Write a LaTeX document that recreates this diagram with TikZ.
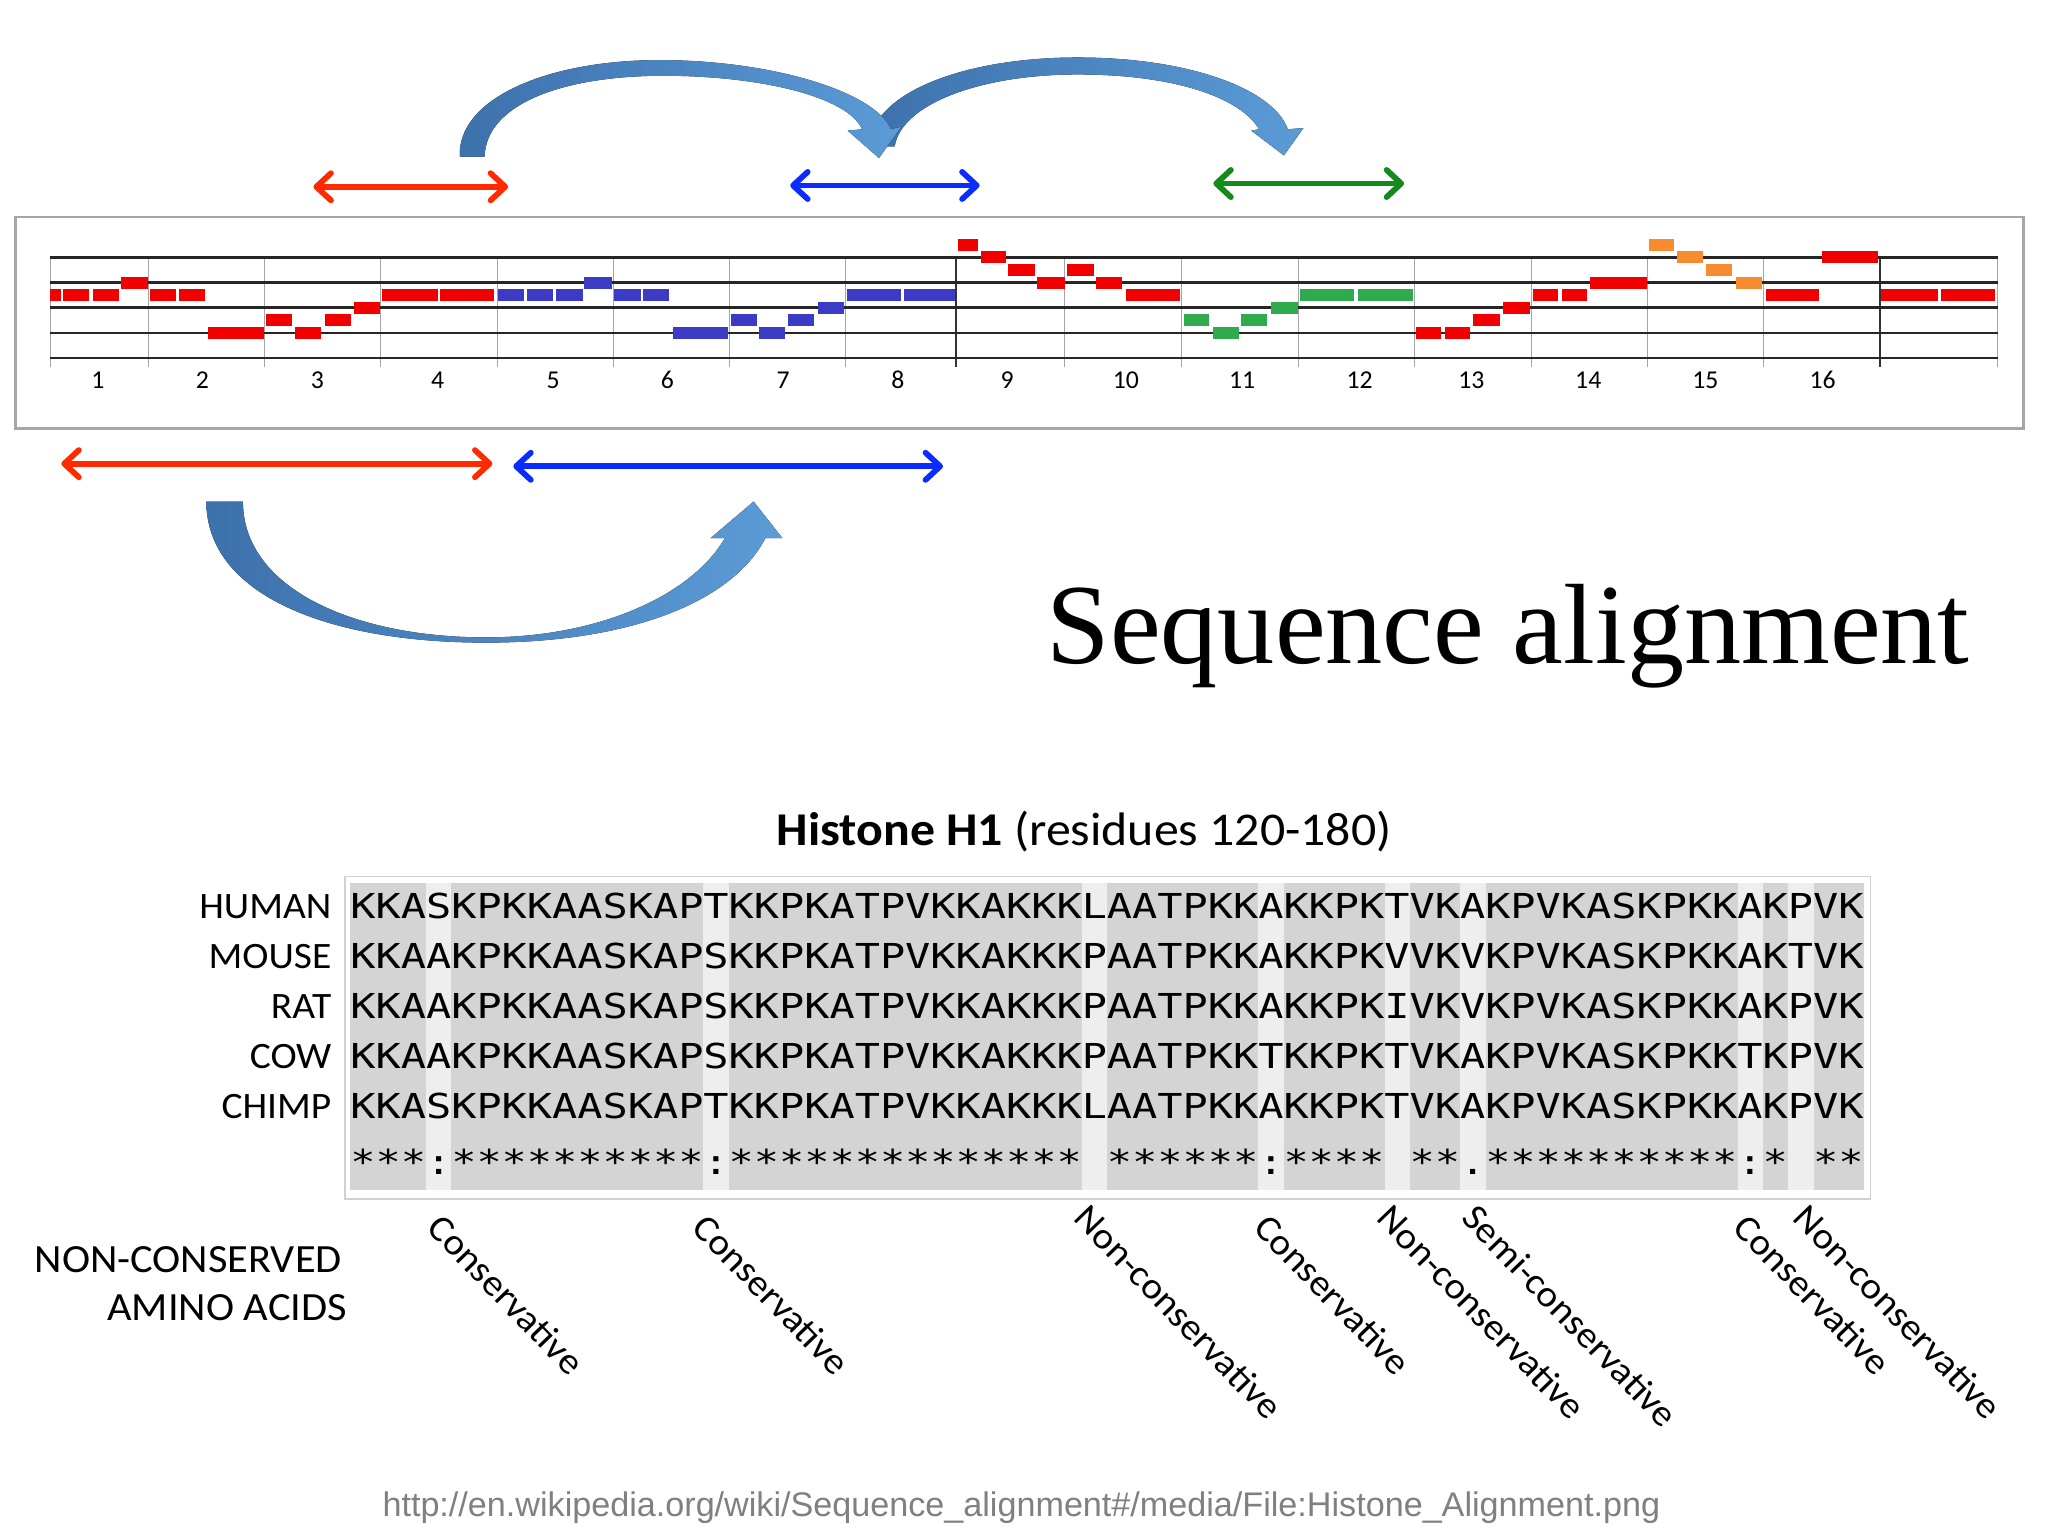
\documentclass[tikz,border=0pt]{standalone}
\usepackage{fontspec}
\setmainfont{Carlito}
\newfontfamily\labelfont[FakeStretch=1.06]{Carlito}
\newfontfamily\seqfont[FakeStretch=1.22]{DejaVu Sans Mono}
\newfontfamily\titlefont{Liberation Serif}
\newfontfamily\urlfont{Liberation Sans}
\usepackage{tikz}
\usetikzlibrary{arrows.meta,positioning}
\usepackage{xcolor}
\definecolor{NoteRed}{HTML}{F20000}
\definecolor{NoteBlue}{HTML}{3B3BC6}
\definecolor{NoteGreen}{HTML}{2FAA4C}
\definecolor{NoteOrange}{HTML}{F68B2F}
\definecolor{ArrRed}{HTML}{FF2A00}
\definecolor{ArrBlue}{HTML}{0A2CFF}
\definecolor{ArrGreen}{HTML}{138A1A}
\definecolor{CurveDark}{HTML}{3D71AC}
\definecolor{CurveLight}{HTML}{5B9BD6}
\definecolor{ColGray}{HTML}{D4D4D4}
\definecolor{ColGap}{HTML}{EEEEEE}
\definecolor{UrlGray}{HTML}{808080}
\newcommand{\gap}{\phantom{*}}
\tikzset{
  spanarr/.style={{Straight Barb[length=2.8mm,width=5.2mm,round]}-{Straight Barb[length=2.8mm,width=5.2mm,round]},
    line width=1.1mm, color=#1},
  curvearr/.style={left color=CurveDark, right color=CurveLight, draw=none},
  staffline/.style={line width=0.5mm, color=black!85},
  barline/.style={line width=0.2mm, color=black!35},
}
\begin{document}
\begin{tikzpicture}[x=0.25mm, y=-0.25mm,
  seqrow/.style={anchor=base west, inner sep=0pt, font=\seqfont\fontsize{18.7}{20}\selectfont},
  species/.style={anchor=base east, inner sep=0pt, font=\labelfont\fontsize{20.3}{24}\selectfont},
  kindlabel/.style={anchor=north west, inner sep=0pt, rotate=-46, font=\labelfont\fontsize{20.2}{24}\selectfont},
  barnum/.style={inner sep=0pt, font=\fontsize{14}{15}\selectfont},
]
  \useasboundingbox (0,0) rectangle (1568,1176);
  \fill[white] (0,0) rectangle (1568,1176);

  % staff panel
  \draw[black!35, line width=0.5mm] (12,166) rectangle (1549,328);
  \foreach \x in {38.5,113.5,202.5,291,381,469.5,558.5,647,815.3,904.9,994.5,1083,1172.7,1261.2,1350.3,1529.5}
    \draw[barline] (\x,197) -- (\x,281);
  \foreach \x in {732,1439.4}
    \draw[line width=0.3mm, black!80] (\x,197) -- (\x,281);
  \foreach \l in {0,2,4,6,8}
    \draw[staffline] (38.5,{197+\l*9.65}) -- (1529.5,{197+\l*9.65});
  \foreach \a/\b/\l/\c in {
      38.5/47/3/NoteRed, 48.5/68.5/3/NoteRed, 71/91/3/NoteRed, 92.5/113.5/2/NoteRed,
      115/135/3/NoteRed, 137/157/3/NoteRed, 159/202/6/NoteRed,
      203.5/223.5/5/NoteRed, 226/246/6/NoteRed, 248.5/268.5/5/NoteRed, 271/291/4/NoteRed,
      292.5/335/3/NoteRed, 337/378.5/3/NoteRed,
      381/401/3/NoteBlue, 403.5/423.5/3/NoteBlue, 426/446/3/NoteBlue, 447.5/468.5/2/NoteBlue,
      470/491/3/NoteBlue, 492.5/512.5/3/NoteBlue, 515/557.5/6/NoteBlue, 559.5/579.5/5/NoteBlue,
      581/601/6/NoteBlue, 603.5/623.5/5/NoteBlue, 626/646/4/NoteBlue,
      648.5/690/3/NoteBlue, 692.5/731/3/NoteBlue,
      733.5/749/-1/NoteRed, 751/770/0/NoteRed, 771.7/792.2/1/NoteRed, 793.8/815.3/2/NoteRed,
      816.8/837.3/1/NoteRed, 838.8/859.3/2/NoteRed, 861.9/903.8/3/NoteRed,
      906.4/926/5/NoteGreen, 928.4/948.4/6/NoteGreen, 950/970.4/5/NoteGreen, 973/993.4/4/NoteGreen,
      995.5/1037/3/NoteGreen, 1039.5/1081.5/3/NoteGreen,
      1084/1103.5/6/NoteRed, 1106/1125.5/6/NoteRed, 1128/1148.6/5/NoteRed, 1150.6/1171.1/4/NoteRed,
      1173.7/1193/3/NoteRed, 1195.7/1215.2/3/NoteRed, 1217.7/1260.7/2/NoteRed,
      1262.2/1281.7/-1/NoteOrange, 1283.7/1304.2/0/NoteOrange, 1306.3/1326.2/1/NoteOrange,
      1328.8/1349.3/2/NoteOrange,
      1351.8/1392.8/3/NoteRed, 1395.3/1437.9/0/NoteRed, 1440.4/1483.4/3/NoteRed, 1486/1527.5/3/NoteRed}
    \fill[\c] (\a,{197+\l*9.65-4.6}) rectangle (\b,{197+\l*9.65+4.6});
  \foreach \n/\x in {1/75,2/155,3/243,4/335,5/423.5,6/511,7/599.5,8/687.5,9/771,10/862,
      11/951,12/1041,13/1126.6,14/1216,15/1305.6,16/1395.5}
    \node[barnum] (m\n) at (\x,291) {\n};

  % span arrows
  \coordinate (rt1) at (240,143);   \coordinate (rt2) at (389,143);
  \coordinate (bt1) at (605,142);   \coordinate (bt2) at (750,142);
  \coordinate (gt1) at (929,140.5); \coordinate (gt2) at (1075,140.5);
  \coordinate (rb1) at (47,355);    \coordinate (rb2) at (377,355);
  \coordinate (bb1) at (393,357);   \coordinate (bb2) at (722,357);
  \draw[spanarr=ArrRed] (rt1) -- (rt2);
  \draw[spanarr=ArrBlue] (bt1) -- (bt2);
  \draw[spanarr=ArrGreen] (gt1) -- (gt2);
  \draw[spanarr=ArrRed] (rb1) -- (rb2);
  \draw[spanarr=ArrBlue] (bb1) -- (bb2);

  % curved arrows
  \fill[curvearr] (665,112) .. controls (668,70) and (740,44) .. (825,44)
    .. controls (910,44) and (975,68) .. (986,99) -- (998,98) -- (983,119) -- (958,100) -- (964,99)
    .. controls (950,75) and (900,57) .. (825,57) .. controls (750,57) and (690,80) .. (685,112) -- cycle;
  \fill[curvearr] (352,120) .. controls (350,75) and (420,46) .. (505,46)
    .. controls (590,46) and (670,70) .. (682,99) -- (690,97) -- (673,121) -- (649,100) -- (660,99)
    .. controls (650,75) and (585,58) .. (508,58) .. controls (430,58) and (372,80) .. (371,120) -- cycle;
  \fill[curvearr] (158,384) .. controls (158,455) and (250,492) .. (372,492)
    .. controls (480,492) and (560,462) .. (586,412) -- (599,412) -- (577,384) -- (544,412) -- (555,412)
    .. controls (530,455) and (460,488) .. (372,488) .. controls (270,488) and (186,450) .. (186,384) -- cycle;

  \node[font=\titlefont\fontsize{62.2}{70}\selectfont, anchor=base west, inner sep=0pt]
    (title) at (801,508) {Sequence alignment};

  % alignment
  \node[font=\labelfont\fontsize{25.6}{30}\selectfont, anchor=base, inner sep=0pt]
    (head) at (830,647) {\textbf{Histone H1} (residues 120-180)};
  \draw[black!18, fill=white, line width=0.3mm] (264,671) rectangle (1432,918);
  \fill[ColGray] (268,676) rectangle (1427,911);
  \foreach \c in {4,15,30,37,42,45,56,58}
    \fill[ColGap] ({268+(\c-1)*19.32},676) rectangle ({268+\c*19.32},911);
  \foreach \nm/\sq [count=\i] in {
      HUMAN/KKASKPKKAASKAPTKKPKATPVKKAKKKLAATPKKAKKPKTVKAKPVKASKPKKAKPVK,
      MOUSE/KKAAKPKKAASKAPSKKPKATPVKKAKKKPAATPKKAKKPKVVKVKPVKASKPKKAKTVK,
      RAT/KKAAKPKKAASKAPSKKPKATPVKKAKKKPAATPKKAKKPKIVKVKPVKASKPKKAKPVK,
      COW/KKAAKPKKAASKAPSKKPKATPVKKAKKKPAATPKKTKKPKTVKAKPVKASKPKKTKPVK,
      CHIMP/KKASKPKKAASKAPTKKPKATPVKKAKKKLAATPKKAKKPKTVKAKPVKASKPKKAKPVK} {
    \node[species] (sp\i) at (254,{703+(\i-1)*38.3}) {\nm};
    \node[seqrow] (sq\i) at (268,{703+(\i-1)*38.3}) {\sq};
  }
  \node[seqrow] (stars) at (268,899)
    {***:**********:**************\gap******:****\gap**.**********:*\gap**};

  \node[species, font=\labelfont\fontsize{21.8}{24}\selectfont] (nc1) at (262,974) {NON-CONSERVED};
  \node[species, font=\labelfont\fontsize{21.8}{24}\selectfont] (nc2) at (266,1011) {AMINO ACIDS};
  \node[kindlabel] (k1) at (340,927) {Conservative};
  \node[kindlabel] (k2) at (543,927) {Conservative};
  \node[kindlabel] (k3) at (835,920) {Non-conservative};
  \node[kindlabel] (k4) at (973,927) {Conservative};
  \node[kindlabel] (k5) at (1067,920) {Non-conservative};
  \node[kindlabel] (k6) at (1132,920) {Semi-conservative};
  \node[kindlabel] (k7) at (1340,927) {Conservative};
  \node[kindlabel] (k8) at (1386,920) {Non-conservative};

  \node[font=\urlfont\fontsize{18.6}{22}\selectfont, text=UrlGray, anchor=base, inner sep=0pt]
    (url) at (782,1161) {http://en.wikipedia.org/wiki/Sequence\_alignment\#/media/File:Histone\_Alignment.png};
\end{tikzpicture}
\end{document}
